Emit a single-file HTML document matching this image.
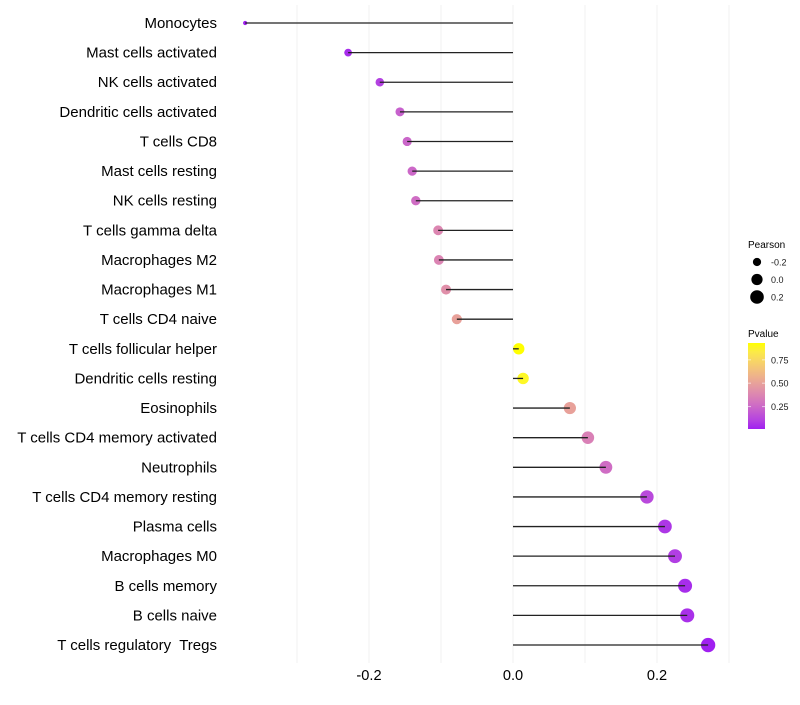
<!DOCTYPE html>
<html><head><meta charset="utf-8"><style>
body{margin:0;background:#fff;font-family:"Liberation Sans",sans-serif}
text{white-space:pre}
</style></head><body>
<svg id="chart" width="800" height="700" xmlns="http://www.w3.org/2000/svg">
<defs><linearGradient id="pg" x1="0" y1="1" x2="0" y2="0"></linearGradient></defs>
<g id="grid"></g><g id="marks"></g><g id="labels"></g><g id="legend"></g>
</svg>
<script>
const categories=["Monocytes","Mast cells activated","NK cells activated","Dendritic cells activated","T cells CD8","Mast cells resting","NK cells resting","T cells gamma delta","Macrophages M2","Macrophages M1","T cells CD4 naive","T cells follicular helper","Dendritic cells resting","Eosinophils","T cells CD4 memory activated","Neutrophils","T cells CD4 memory resting","Plasma cells","Macrophages M0","B cells memory","B cells naive","T cells regulatory  Tregs"];
const pearson=[-0.372,-0.229,-0.185,-0.157,-0.147,-0.140,-0.135,-0.104,-0.103,-0.093,-0.078,0.008,0.014,0.079,0.104,0.129,0.186,0.211,0.225,0.239,0.242,0.271];
const pvalues=[0.01,0.04,0.1,0.22,0.24,0.25,0.27,0.38,0.37,0.42,0.5,0.93,0.9,0.5,0.35,0.27,0.13,0.07,0.09,0.04,0.05,0.01];
const xTicks=[-0.2,0.0,0.2];
const gridVals=[-0.3,-0.2,-0.1,0,0.1,0.2,0.3];
const sizeLegend=[-0.2,0.0,0.2];
const colorTicks=[0.25,0.5,0.75];

const NS="http://www.w3.org/2000/svg";
function mk(t,a,p){const e=document.createElementNS(NS,t);for(const k in a)e.setAttribute(k,a[k]);p.appendChild(e);return e;}
const xs=v=>513+v*720;
const ys=i=>23+i*29.62;
const pmin=Math.min(...pvalues),pmax=Math.max(...pvalues),smin=Math.min(...pearson),smax=Math.max(...pearson);
const rad=v=>Math.sqrt(4.5+(v-smin)/(smax-smin)*47);
function toLab(h){let c=[1,3,5].map(i=>parseInt(h.substr(i,2),16)/255).map(v=>v>0.04045?Math.pow((v+0.055)/1.055,2.4):v/12.92);
let X=(c[0]*0.4124+c[1]*0.3576+c[2]*0.1805)/0.95047,Y=c[0]*0.2126+c[1]*0.7152+c[2]*0.0722,Z=(c[0]*0.0193+c[1]*0.1192+c[2]*0.9505)/1.08883;
const f=t=>t>0.008856?Math.cbrt(t):7.787*t+16/116;return [116*f(Y)-16,500*(f(X)-f(Y)),200*(f(Y)-f(Z))];}
function fromLab(L){let fy=(L[0]+16)/116,fx=fy+L[1]/500,fz=fy-L[2]/200;const g=t=>t**3>0.008856?t**3:(t-16/116)/7.787;
let X=g(fx)*0.95047,Y=g(fy),Z=g(fz)*1.08883;let r=X*3.2406-Y*1.5372-Z*0.4986,gg=-X*0.9689+Y*1.8758+Z*0.0415,b=X*0.0557-Y*0.2040+Z*1.0570;
return "rgb("+[r,gg,b].map(v=>{v=v>0.0031308?1.055*Math.pow(v,1/2.4)-0.055:12.92*v;return Math.round(Math.max(0,Math.min(1,v))*255)}).join(",")+")";}
const lo=toLab("#A020F0"),hi=toLab("#FFFF00");
const col=p=>{const t=(p-pmin)/(pmax-pmin);return fromLab(lo.map((v,i)=>v+(hi[i]-v)*t));};

const grid=document.getElementById('grid');
gridVals.forEach(v=>{const l=mk('line',{x1:xs(v),x2:xs(v),y1:5,y2:663,stroke:'#f0f0f0','stroke-width':1},grid);

});
const marks=document.getElementById('marks'),labels=document.getElementById('labels');
categories.forEach((c,i)=>{
 const pt=mk('circle',{cx:xs(pearson[i]),cy:ys(i),r:rad(pearson[i]),fill:col(pvalues[i])},marks);
 
 
 const sg=mk('line',{x1:xs(0),x2:xs(pearson[i]),y1:ys(i),y2:ys(i),stroke:'#222','stroke-width':1.3},marks);
 
 
 const t=mk('text',{x:217,y:ys(i)+5,'text-anchor':'end','font-size':15,fill:'#000'},labels);t.textContent=c;
 
 
});
xTicks.forEach(v=>{const t=mk('text',{x:xs(v),y:680,'text-anchor':'middle','font-size':14.6,fill:'#000'},labels);t.textContent=v.toFixed(1);
 
 });
const lg=document.getElementById('legend');
let tt=mk('text',{x:748,y:248,'font-size':10,fill:'#000'},lg);tt.textContent='Pearson';


sizeLegend.forEach((v,i)=>{const y=262+i*17.5;const c=mk('circle',{cx:757,cy:y,r:rad(v),fill:'#000'},lg);
 
 
 const t=mk('text',{x:771,y:y+3.5,'font-size':9,fill:'#1a1a1a'},lg);t.textContent=v.toFixed(1);
 
 });
tt=mk('text',{x:748,y:337,'font-size':10,fill:'#000'},lg);tt.textContent='Pvalue';


const gr=document.getElementById('pg');
for(let k=0;k<=10;k++){mk('stop',{offset:k/10,'stop-color':col(pmin+(pmax-pmin)*k/10)},gr);}
const cb=mk('rect',{x:748,y:343,width:17,height:86,fill:'url(#pg)'},lg);


const cy=p=>429-(p-pmin)/(pmax-pmin)*86;
colorTicks.forEach(v=>{mk('line',{x1:748,x2:751,y1:cy(v),y2:cy(v),stroke:'#fff','stroke-opacity':0.6},lg);mk('line',{x1:762,x2:765,y1:cy(v),y2:cy(v),stroke:'#fff','stroke-opacity':0.6},lg);
 const t=mk('text',{x:771,y:cy(v)+3.5,'font-size':9,fill:'#1a1a1a'},lg);t.textContent=v.toFixed(2);
 
 });
</script>
</body></html>
